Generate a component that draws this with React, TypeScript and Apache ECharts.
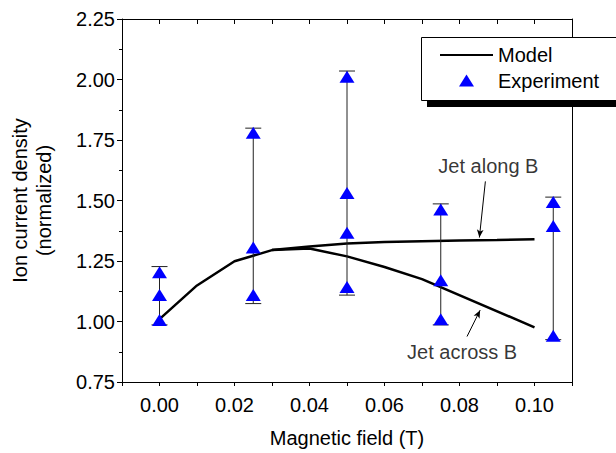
import React, { useEffect, useRef } from "react";
import * as echarts from "echarts";

// Model curves
const modelAlongX = [0, 0.01, 0.02, 0.03, 0.04, 0.05, 0.06, 0.07, 0.08, 0.09, 0.1];
const modelAlongY = [1.01, 1.149, 1.249, 1.295, 1.31, 1.322, 1.328, 1.332, 1.335, 1.337, 1.34];
const modelAcrossX = [0.03, 0.04, 0.05, 0.06, 0.07, 0.1];
const modelAcrossY = [1.295, 1.302, 1.269, 1.225, 1.175, 0.976];

// Experiment
const expField = [0, 0.025, 0.05, 0.075, 0.105];
const expValues = [
  [1.006, 1.11, 1.204],
  [1.11, 1.306, 1.78],
  [1.143, 1.367, 1.531, 2.011],
  [1.009, 1.17, 1.4625],
  [0.941, 1.395, 1.494],
];
const errLow = [0.986, 1.074, 1.109, 0.986, 0.925];
const errHigh = [1.227, 1.799, 2.035, 1.486, 1.514];

// Annotations
const annoText = ["Jet along B", "Jet across B"];
const annoPos = [
  [0.0877, 1.644],
  [0.0807, 0.874],
];
const arrowFrom = [
  [0.0869, 1.579],
  [0.082, 0.938],
];
const arrowTo = [
  [0.0853, 1.347],
  [0.0855, 1.047],
];

const FONT = "'Liberation Sans', Arial, sans-serif";
const FS = 20;

export default function App() {
  const ref = useRef<HTMLDivElement>(null);
  useEffect(() => {
    document.body.style.margin = "0";
    const chart = echarts.init(ref.current!, null, { renderer: "svg" });
    const expData: number[][] = [];
    expField.forEach((x, i) => expValues[i].forEach((v) => expData.push([x, v])));
    const errData = expField.map((x, i) => [x, errLow[i], errHigh[i]]);

    const xLabelFmt = (v: number) => {
      const k = Math.round(v * 100);
      if (k < 0 || k > 10 || k % 2 !== 0) return "";
      return (k / 100).toFixed(2);
    };

    chart.setOption({
      animation: false,
      backgroundColor: "#fff",
      textStyle: { fontFamily: FONT },
      grid: { left: 121, right: 44, top: 19, bottom: 67 },
      legend: {
        data: [
          { name: "Model", icon: "path://M0,0H53V2.2H0Z", itemStyle: { color: "#000", opacity: 1 } },
          { name: "Experiment", icon: "path://M7.5,0L15,12L0,12Z", itemStyle: { color: "#0000ff", opacity: 1 } },
        ],
        orient: "vertical",
        left: 440,
        top: 45,
        padding: 0,
        itemGap: 5.5,
        itemWidth: 53,
        itemHeight: 12,
        symbolKeepAspect: true,
        z: 10,
        textStyle: { fontSize: FS, lineHeight: 20, color: "#000", fontFamily: FONT },
      },
      graphic: {
        elements: [
          { type: "rect", z: 5, shape: { x: 427, y: 43, width: 220, height: 64 }, style: { fill: "#000" } },
          {
            type: "rect",
            z: 6,
            shape: { x: 421.5, y: 37.5, width: 220, height: 63 },
            style: { fill: "#fff", stroke: "#000", lineWidth: 1 },
          },
        ],
      },
      xAxis: [
        {
          type: "value",
          position: "bottom",
          min: -0.01,
          max: 0.11,
          interval: 0.01,
          name: "Magnetic field (T)",
          nameLocation: "middle",
          nameGap: 46,
          nameTextStyle: { fontSize: FS, color: "#000", fontFamily: FONT, lineHeight: 20 },
          axisLine: { show: true, onZero: false, lineStyle: { color: "#000", width: 1 } },
          axisTick: { show: true, inside: false, length: 4, lineStyle: { color: "#000" } },
          axisLabel: { formatter: xLabelFmt, fontSize: FS, color: "#000", margin: 13, fontFamily: FONT, lineHeight: 20 },
          splitLine: { show: false },
        },
        {
          type: "value",
          position: "top",
          min: -0.01,
          max: 0.11,
          interval: 0.01,
          axisLine: { show: true, onZero: false, lineStyle: { color: "#000", width: 1 } },
          axisTick: { show: true, inside: true, length: 5, lineStyle: { color: "#000" } },
          axisLabel: { show: false },
          splitLine: { show: false },
        },
      ],
      yAxis: [
        {
          type: "value",
          position: "left",
          min: 0.75,
          max: 2.25,
          interval: 0.25,
          name: "Ion current density\n(normalized)",
          nameLocation: "middle",
          nameGap: 66,
          nameTextStyle: { fontSize: FS, color: "#000", fontFamily: FONT, lineHeight: 24 },
          axisLine: { show: true, onZero: false, lineStyle: { color: "#000", width: 1 } },
          axisTick: { show: true, inside: false, length: 5, lineStyle: { color: "#000" } },
          minorTick: { show: true, splitNumber: 2, length: 3, lineStyle: { color: "#000" } },
          axisLabel: {
            formatter: (v: number) => v.toFixed(2),
            fontSize: FS,
            color: "#000",
            margin: 7,
            fontFamily: FONT,
          },
          splitLine: { show: false },
        },
        {
          type: "value",
          position: "right",
          min: 0.75,
          max: 2.25,
          interval: 0.25,
          axisLine: { show: true, onZero: false, lineStyle: { color: "#000", width: 1 } },
          axisTick: { show: false },
          axisLabel: { show: false },
          splitLine: { show: false },
        },
      ],
      series: [
        {
          name: "Model",
          type: "line",
          data: modelAlongX.map((x, i) => [x, modelAlongY[i]]),
          symbol: "none",
          lineStyle: { color: "#000", width: 2.5 },
          itemStyle: { color: "#000" },
          z: 2,
        },
        {
          name: "Model",
          type: "line",
          data: modelAcrossX.map((x, i) => [x, modelAcrossY[i]]),
          symbol: "none",
          lineStyle: { color: "#000", width: 2.5 },
          itemStyle: { color: "#000" },
          z: 2,
        },
        {
          name: "errbars",
          type: "custom",
          data: errData,
          encode: { x: 0, y: [1, 2] },
          z: 3,
          renderItem: (params: any, api: any) => {
            const x = api.value(0);
            const lo = api.coord([x, api.value(1)]);
            const hi = api.coord([x, api.value(2)]);
            const hw = 8;
            const st = { stroke: "#222", lineWidth: 1 };
            return {
              type: "group",
              children: [
                { type: "line", shape: { x1: lo[0], y1: lo[1], x2: hi[0], y2: hi[1] }, style: st },
                { type: "line", shape: { x1: hi[0] - hw, y1: hi[1], x2: hi[0] + hw, y2: hi[1] }, style: st },
                { type: "line", shape: { x1: lo[0] - hw, y1: lo[1], x2: lo[0] + hw, y2: lo[1] }, style: st },
              ],
            };
          },
        },
        {
          name: "Experiment",
          type: "scatter",
          data: expData,
          symbol: "triangle",
          symbolSize: [15, 12],
          itemStyle: { color: "#0000ff", opacity: 1 },
          z: 5,
        },
        {
          name: "annotations",
          type: "scatter",
          data: annoPos.map((p, i) => [p[0], p[1], annoText[i]]),
          symbolSize: 0,
          silent: true,
          label: {
            show: true,
            position: "inside",
            formatter: (p: any) => p.data[2],
            fontSize: FS,
            color: "#000",
            fontFamily: FONT,
          },
          markLine: {
            silent: true,
            symbol: ["none", "arrow"],
            symbolSize: [5, 8],
            label: { show: false },
            lineStyle: { color: "#000", width: 1, type: "solid" },
            data: arrowFrom.map((f, i) => [{ coord: f }, { coord: arrowTo[i] }]),
          },
          z: 4,
        },
      ],
    });
    return () => chart.dispose();
  }, []);
  return <div ref={ref} style={{ position: "fixed", left: 0, top: 0, width: 616, height: 453 }} />;
}
